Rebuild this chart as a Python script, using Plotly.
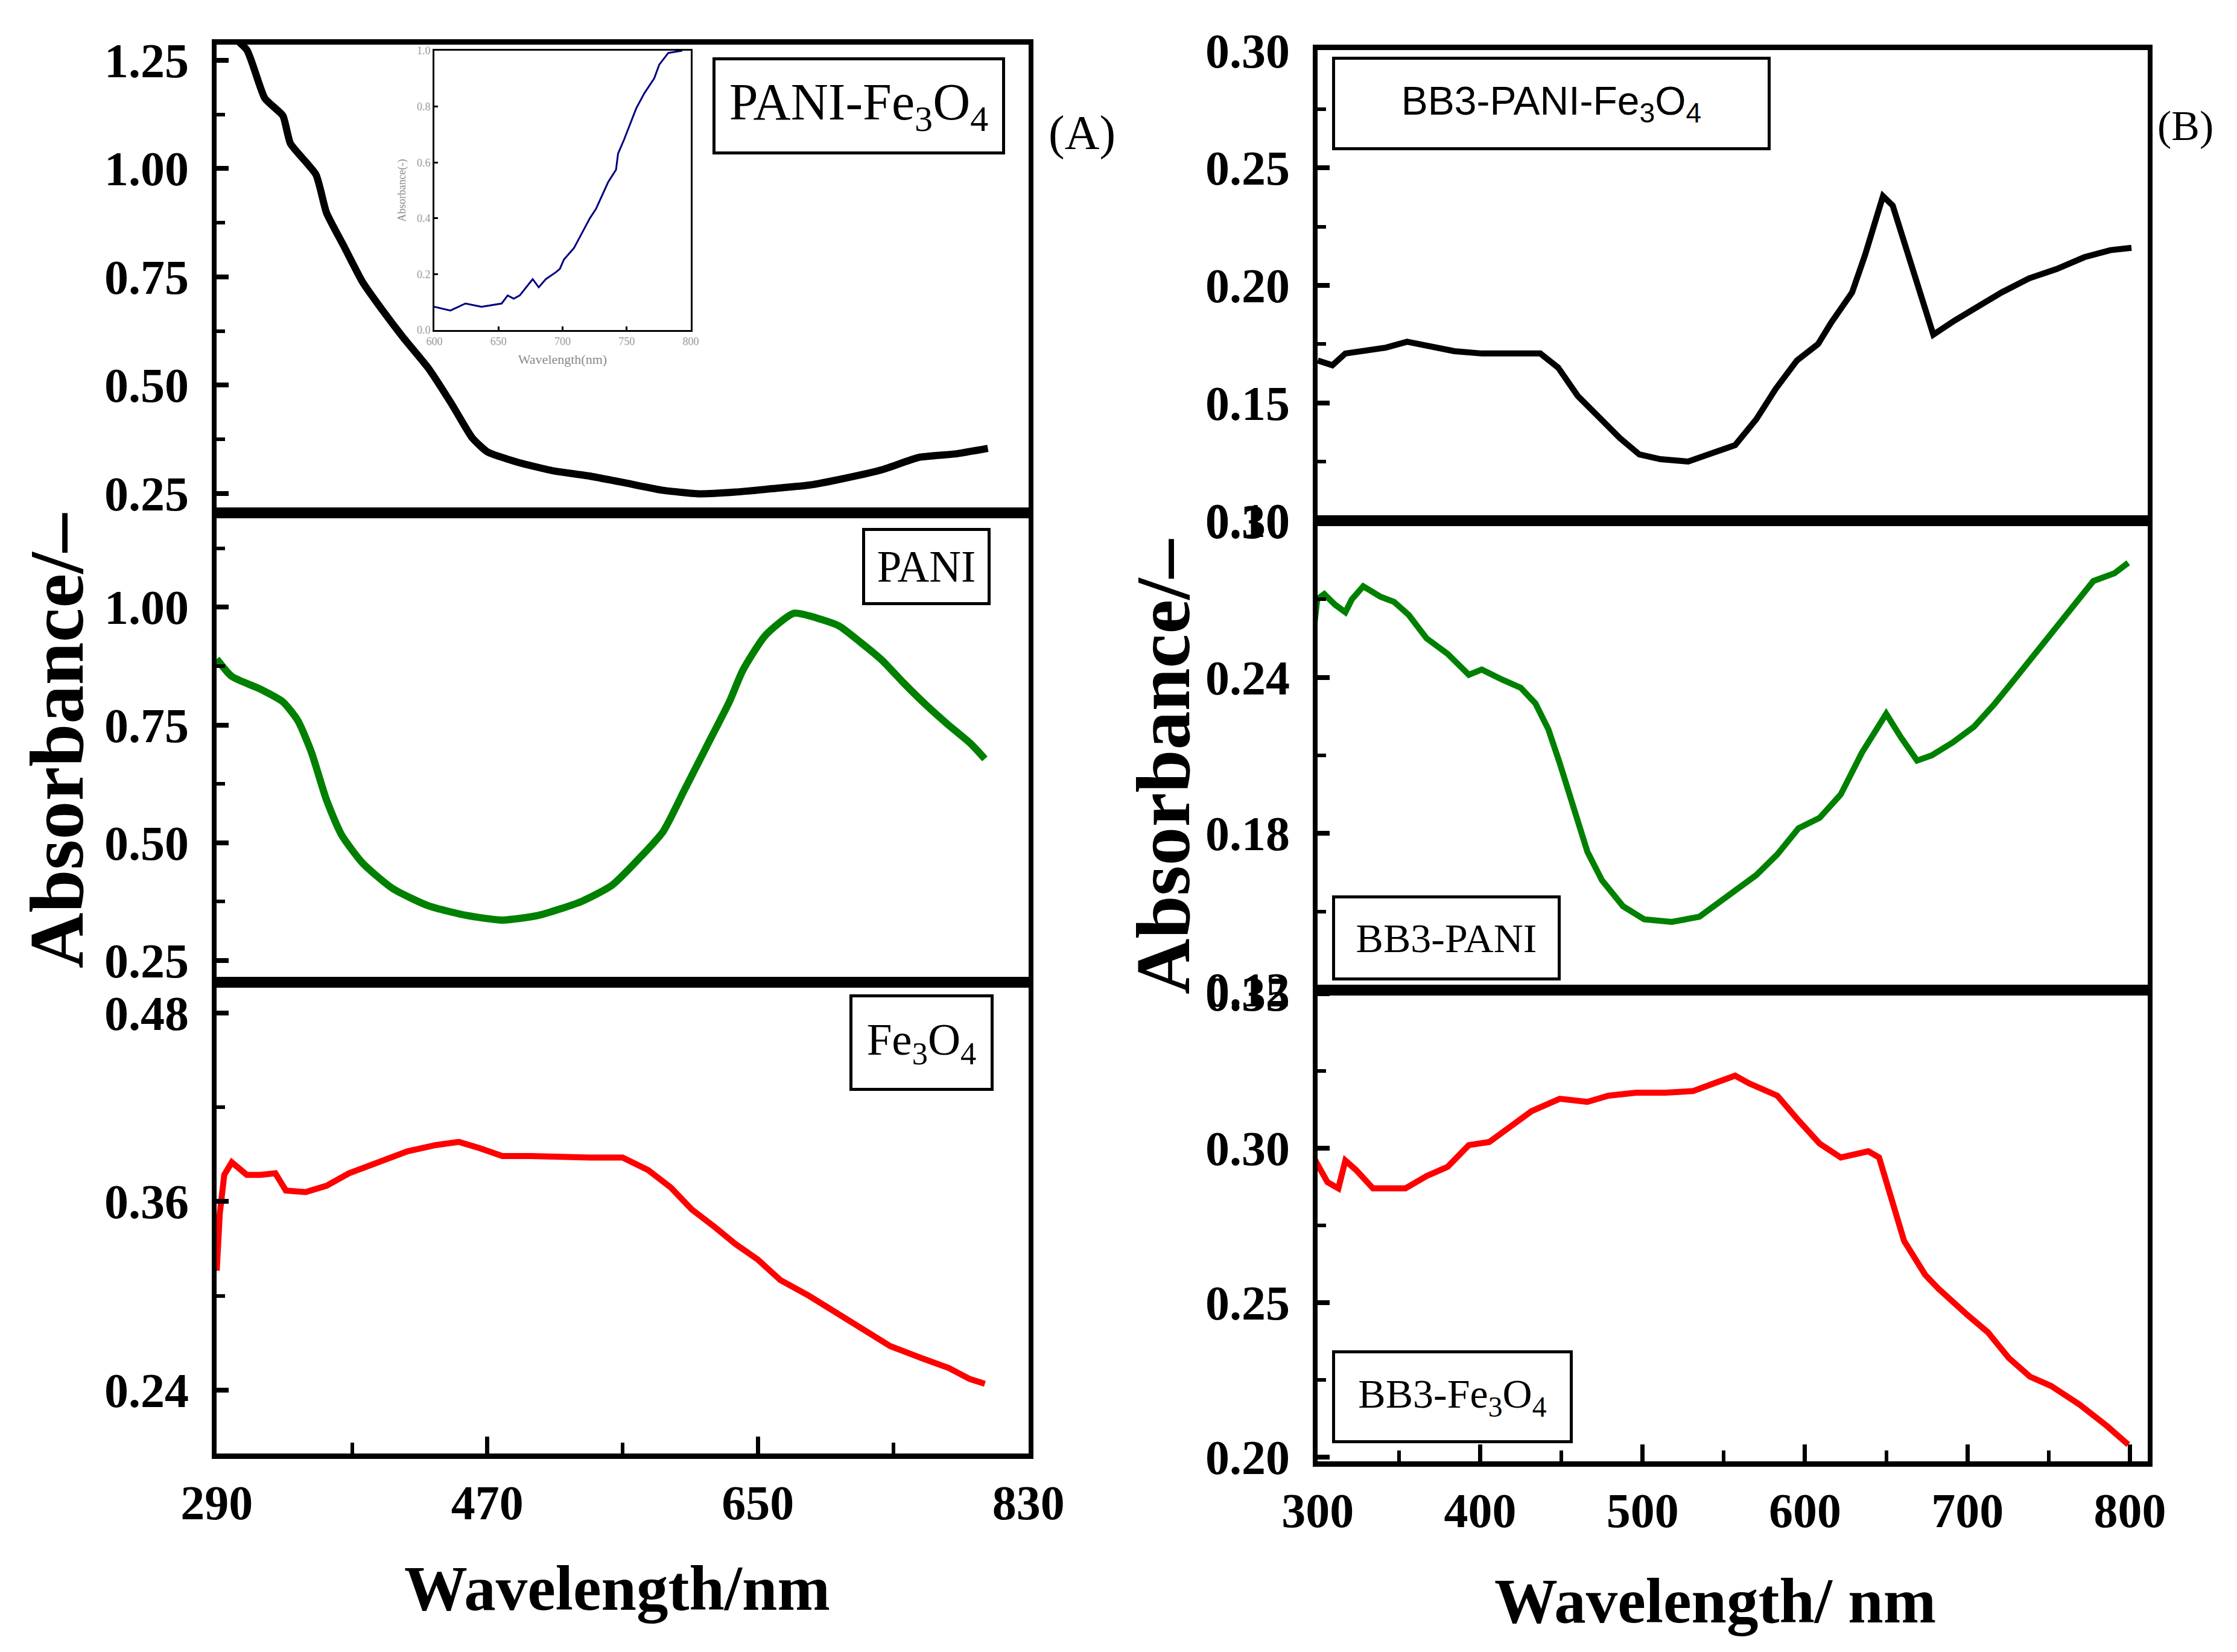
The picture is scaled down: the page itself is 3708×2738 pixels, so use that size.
import plotly.graph_objects as go

W, H = 3708, 2738

# ---------------- Panel (A) data ----------------
pani_fe3o4_wl = [295, 310, 322, 334, 339, 356, 363, 375, 387, 400, 414, 431, 446, 460, 470, 490,
                 514, 538, 562, 587, 611, 635, 660, 684, 708, 733, 757, 781, 803]
pani_fe3o4_abs = [1.32, 1.274, 1.162, 1.122, 1.058, 0.986, 0.898, 0.818, 0.738, 0.674, 0.610, 0.538,
                  0.458, 0.378, 0.346, 0.322, 0.302, 0.290, 0.274, 0.257, 0.249, 0.253, 0.261,
                  0.269, 0.285, 0.305, 0.333, 0.341, 0.354]

pani_wl = [290, 300, 319, 334, 344, 353, 363, 373, 387, 407, 431, 456, 480, 504, 533, 553, 572,
           587, 601, 616, 631, 640, 655, 674, 689, 704, 718, 733, 747, 762, 776, 791, 801]
pani_abs = [0.890, 0.853, 0.826, 0.799, 0.759, 0.692, 0.591, 0.517, 0.457, 0.403, 0.366, 0.346,
            0.336, 0.346, 0.376, 0.410, 0.470, 0.524, 0.611, 0.705, 0.799, 0.866, 0.940, 0.987,
            0.977, 0.960, 0.926, 0.886, 0.839, 0.792, 0.752, 0.712, 0.678]

fe3o4_wl = [290, 292, 295, 300, 310, 319, 329, 336, 349, 363, 378, 397, 417, 436, 451, 465, 480,
            499, 519, 538, 560, 577, 592, 606, 621, 635, 650, 665, 684, 704, 723, 738, 757, 777,
            791, 801]
fe3o4_abs = [0.316, 0.352, 0.377, 0.385, 0.377, 0.377, 0.378, 0.367, 0.366, 0.370, 0.378, 0.385,
             0.392, 0.396, 0.398, 0.394, 0.389, 0.389, 0.388, 0.388, 0.388, 0.380, 0.369, 0.355,
             0.344, 0.333, 0.323, 0.310, 0.300, 0.288, 0.276, 0.268, 0.261, 0.254, 0.247, 0.244]

# inset of panel (A)
inset_wl = [600, 612.5, 624.3, 636.8, 652.5, 657.2, 661.9, 666.6, 674.4, 676.7, 681.4, 686.9,
            694.8, 697.9, 701.0, 708.8, 715.1, 721.4, 726.1, 730.8, 735.5, 741.7, 743.3, 748.0,
            753.5, 757.4, 763.7, 771.5, 775.4, 782.5, 793.4]
inset_abs = [0.083, 0.070, 0.095, 0.083, 0.095, 0.124, 0.112, 0.124, 0.169, 0.182, 0.153, 0.182,
             0.207, 0.219, 0.252, 0.293, 0.347, 0.401, 0.434, 0.483, 0.529, 0.574, 0.632, 0.682,
             0.748, 0.793, 0.847, 0.901, 0.950, 0.992, 1.0]

# ---------------- Panel (B) data ----------------
bb3_pani_fe3o4_wl = [300, 309, 317, 330, 342, 355, 368, 384, 401, 418, 437, 448, 460, 473, 486,
                     498, 511, 528, 540, 557, 570, 582, 595, 608, 616, 629, 637, 648, 654, 662,
                     671, 679, 692, 704, 721, 738, 755, 772, 788, 801]
bb3_pani_fe3o4_abs = [0.168, 0.166, 0.171, 0.172, 0.1735, 0.176, 0.174, 0.172, 0.171, 0.171,
                      0.171, 0.165, 0.153, 0.144, 0.135, 0.128, 0.126, 0.125, 0.128, 0.132,
                      0.143, 0.156, 0.168, 0.175, 0.184, 0.197, 0.213, 0.238, 0.234, 0.216,
                      0.197, 0.179, 0.185, 0.190, 0.197, 0.203, 0.207, 0.212, 0.215, 0.216]

bb3_pani_wl = [297.5, 299.7, 304, 310.5, 317, 321, 328, 338.6, 347, 356, 367, 380, 393, 401, 414,
               425, 434, 442, 449, 457.5, 466, 475, 488, 501, 518, 535, 553, 570, 583, 596, 609,
               622, 635, 650, 659, 669, 678, 691, 704, 717, 730, 743, 756, 769, 777.5, 790.5, 799]
bb3_pani_abs = [0.258, 0.270, 0.272, 0.268, 0.265, 0.270, 0.275, 0.271, 0.269, 0.264, 0.255,
                0.249, 0.241, 0.243, 0.239, 0.236, 0.230, 0.220, 0.207, 0.189, 0.173, 0.162,
                0.152, 0.147, 0.146, 0.148, 0.156, 0.164, 0.172, 0.182, 0.186, 0.195, 0.211,
                0.226, 0.217, 0.208, 0.210, 0.215, 0.221, 0.230, 0.240, 0.250, 0.260, 0.270,
                0.277, 0.280, 0.284]

bb3_fe3o4_wl = [297.5, 306, 312.7, 317, 323.5, 334, 345, 354, 367, 380, 393, 405.6, 418.6, 431.6,
                449, 466, 479, 496, 514, 531, 544, 557, 565.6, 574, 583, 596, 609, 622, 639,
                645.6, 652, 661, 674, 682, 700, 712.6, 725.6, 738.6, 751.6, 769, 786, 799]
bb3_fe3o4_abs = [0.297, 0.289, 0.287, 0.296, 0.293, 0.287, 0.287, 0.287, 0.291, 0.294, 0.301,
                 0.302, 0.307, 0.312, 0.316, 0.315, 0.317, 0.318, 0.318, 0.3185, 0.321, 0.3235,
                 0.321, 0.319, 0.317, 0.309, 0.3015, 0.297, 0.299, 0.297, 0.286, 0.270, 0.259,
                 0.2546, 0.246, 0.2404, 0.232, 0.226, 0.223, 0.217, 0.210, 0.204]

# tick values
a_top_ticks = [0.25, 0.50, 0.75, 1.00, 1.25]
a_top_minor = [0.375, 0.625, 0.875, 1.125]
a_mid_ticks = [0.25, 0.50, 0.75, 1.00]
a_mid_minor = [0.375, 0.625, 0.875, 1.125]
a_bot_ticks = [0.24, 0.36, 0.48]
a_bot_minor = [0.30, 0.42]
a_x_ticks = [290, 470, 650, 830]
a_x_minor = [380, 560, 740]
b_top_ticks = [0.10, 0.15, 0.20, 0.25, 0.30]
b_top_minor = [0.125, 0.175, 0.225, 0.275]
b_mid_ticks = [0.12, 0.18, 0.24, 0.30]
b_mid_minor = [0.15, 0.21, 0.27]
b_bot_ticks = [0.20, 0.25, 0.30, 0.35]
b_bot_minor = [0.225, 0.275, 0.325]
b_x_ticks = [300, 400, 500, 600, 700, 800]
b_x_minor = [350, 450, 550, 650, 750]
inset_x_ticks = [600, 650, 700, 750, 800]
inset_y_ticks = [0.0, 0.2, 0.4, 0.6, 0.8, 1.0]

SERIF = "Liberation Serif"
SANS = "Liberation Sans"

fig = go.Figure()
fig.add_trace(go.Scatter(x=pani_fe3o4_wl, y=pani_fe3o4_abs, mode="lines",
                         line=dict(color="black", width=12, shape="spline", smoothing=0.5),
                         xaxis="x", yaxis="y"))
fig.add_trace(go.Scatter(x=pani_wl, y=pani_abs, mode="lines",
                         line=dict(color="#008000", width=12, shape="spline", smoothing=0.6),
                         xaxis="x2", yaxis="y2"))
fig.add_trace(go.Scatter(x=fe3o4_wl, y=fe3o4_abs, mode="lines",
                         line=dict(color="#ff0000", width=10), xaxis="x3", yaxis="y3"))
fig.add_trace(go.Scatter(x=bb3_pani_fe3o4_wl, y=bb3_pani_fe3o4_abs, mode="lines",
                         line=dict(color="black", width=10), xaxis="x4", yaxis="y4"))
fig.add_trace(go.Scatter(x=bb3_pani_wl, y=bb3_pani_abs, mode="lines",
                         line=dict(color="#008000", width=10), xaxis="x5", yaxis="y5"))
fig.add_trace(go.Scatter(x=bb3_fe3o4_wl, y=bb3_fe3o4_abs, mode="lines",
                         line=dict(color="#ff0000", width=10), xaxis="x6", yaxis="y6"))
fig.add_trace(go.Scatter(x=inset_wl, y=inset_abs, mode="lines",
                         line=dict(color="#000080", width=3), xaxis="x7", yaxis="y7"))

def dx(p):
    return p / W

def dy(p):
    return 1 - p / H

AX = dict(x0=351, x1=1697)
BX = dict(x0=2176, x1=3552)
A_rows = [(66, 842), (842, 1620), (1620, 2401)]
B_rows = [(75, 855), (855, 1633), (1633, 2414)]

tickfont = dict(family=SERIF, size=80, color="black", weight="bold")


def xaxis_cfg(cols, rng, anchor, ticks=None, minor=None):
    d = dict(domain=[dx(cols["x0"]), dx(cols["x1"])], range=rng, anchor=anchor,
             showline=True, mirror=True, linecolor="black", linewidth=9,
             showgrid=False, zeroline=False, automargin=False)
    if ticks is None:
        d.update(showticklabels=False, ticks="")
    else:
        d.update(tickmode="array", tickvals=ticks, ticks="inside", ticklen=28, tickwidth=7,
                 tickcolor="black", tickfont=tickfont, ticklabelstandoff=4,
                 minor=dict(tickmode="array", tickvals=minor, ticks="inside", ticklen=18,
                            tickwidth=6, tickcolor="black"))
    return d


def yaxis_cfg(row, rng, anchor, ticks, minor):
    return dict(domain=[dy(row[1]), dy(row[0])], range=rng, anchor=anchor,
                showline=True, mirror=True, linecolor="black", linewidth=8,
                showgrid=False, zeroline=False, automargin=False,
                tickmode="array", tickvals=ticks, tickformat=".2f",
                ticks="inside", ticklen=20, tickwidth=8, tickcolor="black",
                tickfont=tickfont, ticklabelstandoff=22,
                minor=dict(tickmode="array", tickvals=minor, ticks="inside", ticklen=14,
                           tickwidth=6, tickcolor="black"))


fig.update_layout(
    width=W, height=H,
    margin=dict(l=0, r=0, t=0, b=0, autoexpand=False),
    paper_bgcolor="white", plot_bgcolor="white",
    showlegend=False,
    xaxis=xaxis_cfg(AX, [289.9, 830.1], "y"),
    xaxis2=xaxis_cfg(AX, [289.9, 830.1], "y2"),
    xaxis3=xaxis_cfg(AX, [289.9, 830.1], "y3", a_x_ticks, a_x_minor),
    xaxis4=xaxis_cfg(BX, [299.9, 811], "y4"),
    xaxis5=xaxis_cfg(BX, [299.9, 811], "y5"),
    xaxis6=xaxis_cfg(BX, [299.9, 811], "y6", b_x_ticks, b_x_minor),
    yaxis=yaxis_cfg(A_rows[0], [0.205, 1.286], "x", a_top_ticks, a_top_minor),
    yaxis2=yaxis_cfg(A_rows[1], [0.204, 1.2], "x2", a_mid_ticks, a_mid_minor),
    yaxis3=yaxis_cfg(A_rows[2], [0.1996, 0.4996], "x3", a_bot_ticks, a_bot_minor),
    yaxis4=yaxis_cfg(B_rows[0], [0.0998, 0.3002], "x4", b_top_ticks, b_top_minor),
    yaxis5=yaxis_cfg(B_rows[1], [0.1198, 0.3002], "x5", b_mid_ticks, b_mid_minor),
    yaxis6=yaxis_cfg(B_rows[2], [0.1986, 0.3512], "x6", b_bot_ticks, b_bot_minor),
    xaxis7=dict(domain=[dx(712), dx(1137)], range=[600, 800], anchor="y7",
                showline=True, mirror=True, linecolor="black", linewidth=3,
                showgrid=False, zeroline=False, automargin=False,
                tickmode="array", tickvals=inset_x_ticks,
                ticks="inside", ticklen=6, tickwidth=3, tickcolor="black",
                tickfont=dict(family=SERIF, size=18, color="#9a9a9a"),
                title=dict(text="Wavelength(nm)", standoff=14,
                           font=dict(family=SERIF, size=22, color="#8a8a8a"))),
    yaxis7=dict(domain=[dy(539), dy(76)], range=[0, 1], anchor="x7",
                showline=True, mirror=True, linecolor="black", linewidth=3,
                showgrid=False, zeroline=False, automargin=False,
                tickmode="array", tickvals=inset_y_ticks,
                tickformat=".1f",
                ticks="inside", ticklen=6, tickwidth=3, tickcolor="black",
                tickfont=dict(family=SERIF, size=18, color="#9a9a9a"),
                title=dict(text="Absorbance(-)", standoff=14,
                           font=dict(family=SERIF, size=18, color="#8a8a8a"))),
)

annotations = []

def label_box(text, x0, y0, w, h, size, family=SERIF):
    annotations.append(dict(
        text=text, xref="paper", yref="paper", x=dx(x0), y=dy(y0),
        xanchor="left", yanchor="top", showarrow=False,
        width=w, height=h, align="center", valign="middle",
        bordercolor="black", borderwidth=5, borderpad=0, bgcolor="white",
        font=dict(family=family, size=size, color="black")))

label_box("PANI-Fe<sub>3</sub>O<sub>4</sub>", 1173, 87, 475, 151, 86)
label_box("PANI", 1421, 867, 203, 118, 73)
label_box("Fe<sub>3</sub>O<sub>4</sub>", 1400, 1640, 229, 150, 75)
label_box("BB3-PANI-Fe<sub>3</sub>O<sub>4</sub>", 2200, 86, 717, 145, 66, SANS)
label_box("BB3-PANI", 2200, 1476, 369, 131, 68)
label_box("BB3-Fe<sub>3</sub>O<sub>4</sub>", 2200, 2230, 389, 144, 68)

annotations.append(dict(text="(A)", xref="paper", yref="paper", x=dx(1785), y=dy(213),
                        xanchor="center", yanchor="middle", showarrow=False,
                        font=dict(family=SERIF, size=80, color="black")))
annotations.append(dict(text="(B)", xref="paper", yref="paper", x=dx(3614), y=dy(200),
                        xanchor="center", yanchor="middle", showarrow=False,
                        font=dict(family=SERIF, size=70, color="black")))

title_font = dict(family=SERIF, size=128, color="black", weight="bold")
annotations.append(dict(text="Absorbance/–", xref="paper", yref="paper", x=dx(86), y=dy(1220),
                        xanchor="center", yanchor="middle", textangle=-90, showarrow=False,
                        font=title_font))
annotations.append(dict(text="Absorbance/–", xref="paper", yref="paper", x=dx(1920), y=dy(1262),
                        xanchor="center", yanchor="middle", textangle=-90, showarrow=False,
                        font=title_font))
xt_font = dict(family=SERIF, size=105, color="black", weight="bold")
annotations.append(dict(text="Wavelength/nm", xref="paper", yref="paper", x=dx(1015), y=dy(2624),
                        xanchor="center", yanchor="middle", showarrow=False, font=xt_font))
annotations.append(dict(text="Wavelength/ nm", xref="paper", yref="paper", x=dx(2835), y=dy(2645),
                        xanchor="center", yanchor="middle", showarrow=False, font=xt_font))

fig.update_layout(annotations=annotations)

fig.write_html("out.html")
